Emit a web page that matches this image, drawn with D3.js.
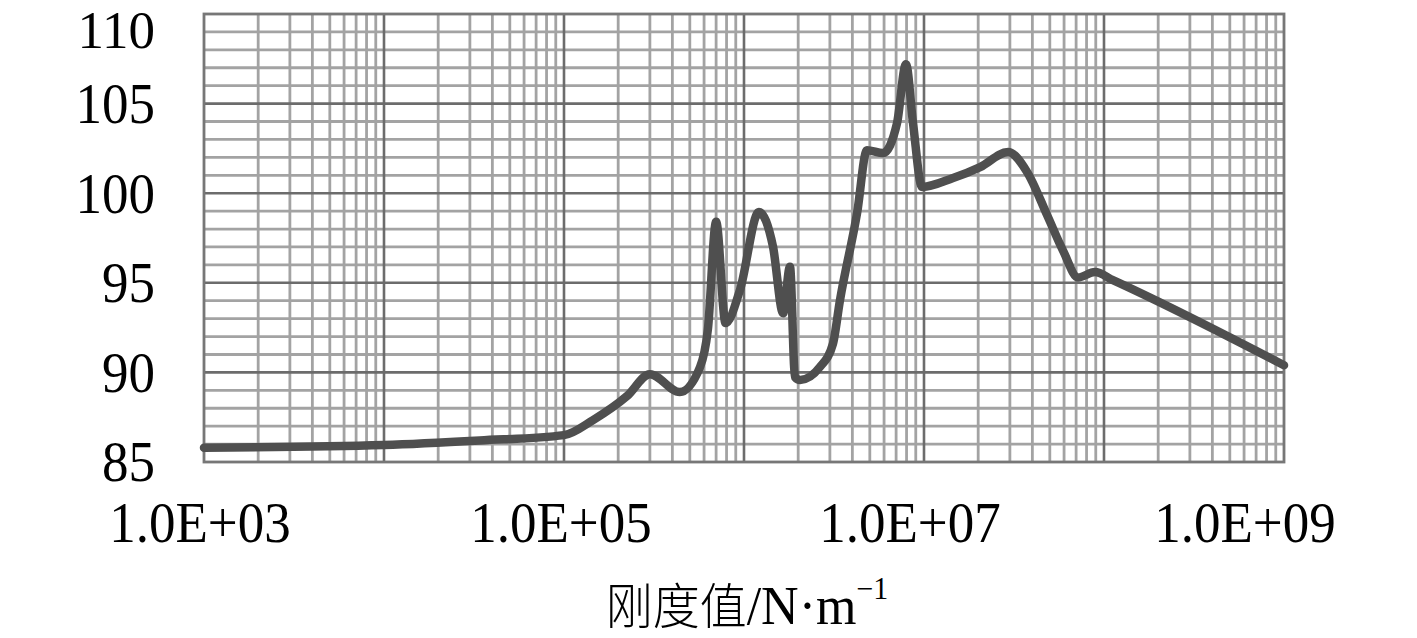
<!DOCTYPE html>
<html><head><meta charset="utf-8">
<script src="https://cdn.jsdelivr.net/npm/d3@7"></script>
<style>html,body{margin:0;padding:0;background:#fff;}svg{display:block;}</style>
</head><body>
<svg id="chart" width="1417" height="638"></svg>
<script>
// ---- data ----
const stiffness = [1.0e3, 1.0e4, 3.4e4, 1.0e5, 1.45e5, 2.24e5, 3.0e5, 4.4e5, 5.7e5, 6.3e5, 7.0e5, 7.9e5, 9.5e5,
  1.21e6, 1.45e6, 1.65e6, 1.8e6, 1.92e6, 2.05e6, 2.64e6, 3.12e6, 3.41e6, 4.25e6, 4.82e6, 5.92e6, 7.08e6, 7.94e6,
  8.69e6, 9.75e6, 1.45e7, 2.05e7, 2.93e7, 3.73e7, 4.82e7, 5.92e7, 7.18e7, 8.9e7, 1.12e8, 1.0e9];
const response = [85.8, 85.95, 86.2, 86.5, 87.34, 88.68, 89.9, 88.9, 90.3, 92.4, 98.4, 92.76, 94.6,
  98.95, 97.0, 93.3, 95.9, 89.74, 89.58, 90.3, 91.6, 94.0, 98.9, 102.4, 102.24, 103.9, 107.2,
  103.9, 100.35, 100.85, 101.46, 102.3, 101.2, 98.8, 96.8, 95.3, 95.6, 95.15, 90.4];
const xTickValues = [1e3, 1e5, 1e7, 1e9];
const xTickLabels = ["1.0E+03", "1.0E+05", "1.0E+07", "1.0E+09"];
const yTickValues = [85, 90, 95, 100, 105, 110];
const yTickLabels = ["85", "90", "95", "100", "105", "110"];
const axisTitleCJK = "刚度值";
const axisTitleUnit = "/N·m";
const axisTitleSup = "−1";

// ---- layout ----
const svg = d3.select("#chart");
const L = 204, R = 1284, T = 14, B = 462;
const x = d3.scaleLog().domain([1e3, 1e9]).range([L, R]);
const y = d3.scaleLinear().domain([85, 110]).range([B, T]);
const xLabelNudge = [-4, -3, -14, -39];

const minorCol = "#a3a3a3", majorCol = "#6c6c6c";

const minorX = [];
for (let d = 3; d < 9; d++) for (let m = 2; m <= 9; m++) minorX.push(m * Math.pow(10, d));
const majorX = [];
for (let d = 4; d < 9; d++) majorX.push(Math.pow(10, d));
const minorY = d3.range(86, 110).filter(v => v % 5 !== 0);
const majorY = [90, 95, 100, 105];

const g = svg.append("g");
g.selectAll(".mx").data(minorX).join("line").attr("class","mx")
  .attr("x1", d => x(d)).attr("x2", d => x(d)).attr("y1", T).attr("y2", B)
  .attr("stroke", minorCol).attr("stroke-width", 2.8);
g.selectAll(".my").data(minorY).join("line").attr("class","my")
  .attr("x1", L).attr("x2", R).attr("y1", d => y(d)).attr("y2", d => y(d))
  .attr("stroke", minorCol).attr("stroke-width", 2.8);
g.selectAll(".Mx").data(majorX).join("line").attr("class","Mx")
  .attr("x1", d => x(d)).attr("x2", d => x(d)).attr("y1", T).attr("y2", B)
  .attr("stroke", majorCol).attr("stroke-width", 2.6);
g.selectAll(".My").data(majorY).join("line").attr("class","My")
  .attr("x1", L).attr("x2", R).attr("y1", d => y(d)).attr("y2", d => y(d))
  .attr("stroke", majorCol).attr("stroke-width", 2.6);
g.append("rect").attr("x", L).attr("y", T).attr("width", R - L).attr("height", B - T)
  .attr("fill", "none").attr("stroke", "#777").attr("stroke-width", 2.8);

// curve
const pts = stiffness.map((s, i) => [s, response[i]]);
const line = d3.line().x(d => x(d[0])).y(d => y(d[1])).curve(d3.curveMonotoneX);
svg.append("path").datum(pts).attr("d", line)
  .attr("fill", "none").attr("stroke", "#4f4f4f").attr("stroke-width", 8.5)
  .attr("stroke-linejoin", "round").attr("stroke-linecap", "round");

// y labels
const fs = 53, sy = 1.08;
yTickValues.forEach((v, i) => {
  let cy = y(v);
  let s = sy;
  if (cy < 30) { cy = 30; s = 1; }
  svg.append("text")
    .attr("transform", `translate(155,${cy + 0.34 * fs * s}) scale(1,${s})`)
    .attr("text-anchor", "end")
    .attr("font-family", "'Liberation Serif','Times New Roman',serif")
    .attr("font-size", fs).attr("fill", "#000").text(yTickLabels[i]);
});
// x labels
xTickValues.forEach((v, i) => {
  svg.append("text")
    .attr("transform", `translate(${x(v) + xLabelNudge[i]},542) scale(1,${sy})`)
    .attr("text-anchor", "middle")
    .attr("font-family", "'Liberation Serif','Times New Roman',serif")
    .attr("font-size", fs).attr("fill", "#000").text(xTickLabels[i]);
});
// axis title
const title = svg.append("text")
  .attr("transform", `translate(${(L + R) / 2 + 3},624) scale(1,1.05)`)
  .attr("text-anchor", "middle").attr("fill", "#000");
title.append("tspan").attr("font-family", "'Noto Sans CJK SC',sans-serif")
  .attr("font-size", 47).attr("font-weight", 300).text(axisTitleCJK);
title.append("tspan").attr("font-family", "'Liberation Serif',serif")
  .attr("font-size", 52).text(axisTitleUnit);
title.append("tspan").attr("font-family", "'Liberation Serif',serif")
  .attr("font-size", 30).attr("dy", -24).text(axisTitleSup);
</script>
</body></html>
